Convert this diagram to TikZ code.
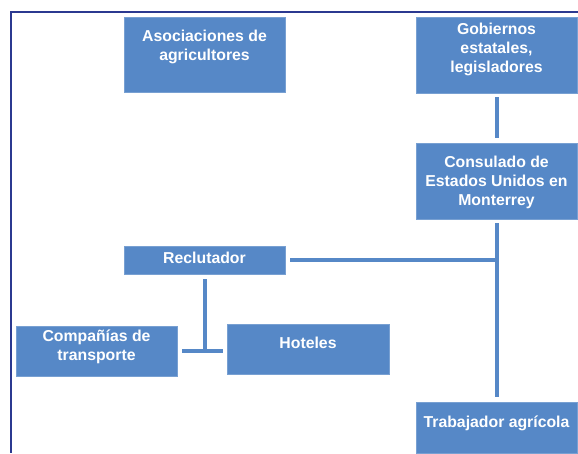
\documentclass[tikz,border=0pt]{standalone}
\usepackage{fontspec}
\setmainfont{Liberation Sans}
\definecolor{boxblue}{RGB}{86,136,199}
\definecolor{framenavy}{RGB}{43,57,144}
\begin{document}
\begin{tikzpicture}[x=1pt,y=-1pt,
  box/.style={fill=boxblue, draw=boxblue!80!white, line width=0.6pt, inner sep=0pt, minimum width=161pt},
  txt/.style={text=white, font=\fontsize{15.8}{19}\selectfont\bfseries, align=center, inner sep=0pt, anchor=base},
  conn/.style={draw=boxblue, line width=4pt}]
\useasboundingbox (0,0) rectangle (578,453);
\draw[framenavy, line width=1.5pt] (578,12) -- (11,12) -- (11,453);
% boxes
\node[box, minimum height=75pt] (asoc) at (204.5,54.5) {};
\node[box, minimum height=76pt] (gob) at (496.5,55) {};
\node[box, minimum height=76pt] (cons) at (496.5,181) {};
\node[box, minimum height=51pt] (trab) at (496.5,427.5) {};
\node[box, minimum height=28pt] (recl) at (204.5,260) {};
\node[box, minimum height=50pt] (comp) at (96.5,350.8) {};
\node[box, minimum height=50pt, minimum width=162pt] (hot) at (308,349) {};
% texts (base anchor = baseline of last line)
\node[txt] (asoct) at (204.5,60) {Asociaciones de\\agricultores};
\node[txt] (gobt) at (496.5,72) {Gobiernos\\estatales,\\legisladores};
\node[txt] (const) at (496.5,205) {Consulado de\\Estados Unidos en\\Monterrey};
\node[txt] (trabt) at (496.5,427) {Trabajador agrícola};
\node[txt] (reclt) at (204.5,263) {Reclutador};
\node[txt] (compt) at (96.5,360.7) {Compañías de\\transporte};
\node[txt] (hott) at (308,348) {Hoteles};
% connectors (canvas y points up, so downward shifts are negative)
\coordinate (j1) at (recl.east -| cons.south);
\coordinate (j2) at (recl.south |- comp.east);
\draw[conn] ([yshift=-4]gob.south) -- ([yshift=5]cons.north);
\draw[conn] ([yshift=-4]cons.south) -- ([yshift=5]trab.north);
\draw[conn] ([xshift=5]recl.east) -- (j1);
\draw[conn] ([yshift=-5]recl.south) -- (j2);
\draw[conn] ([xshift=5]comp.east) -- ([xshift=-4]hot.west |- comp.east);
\end{tikzpicture}
\end{document}
